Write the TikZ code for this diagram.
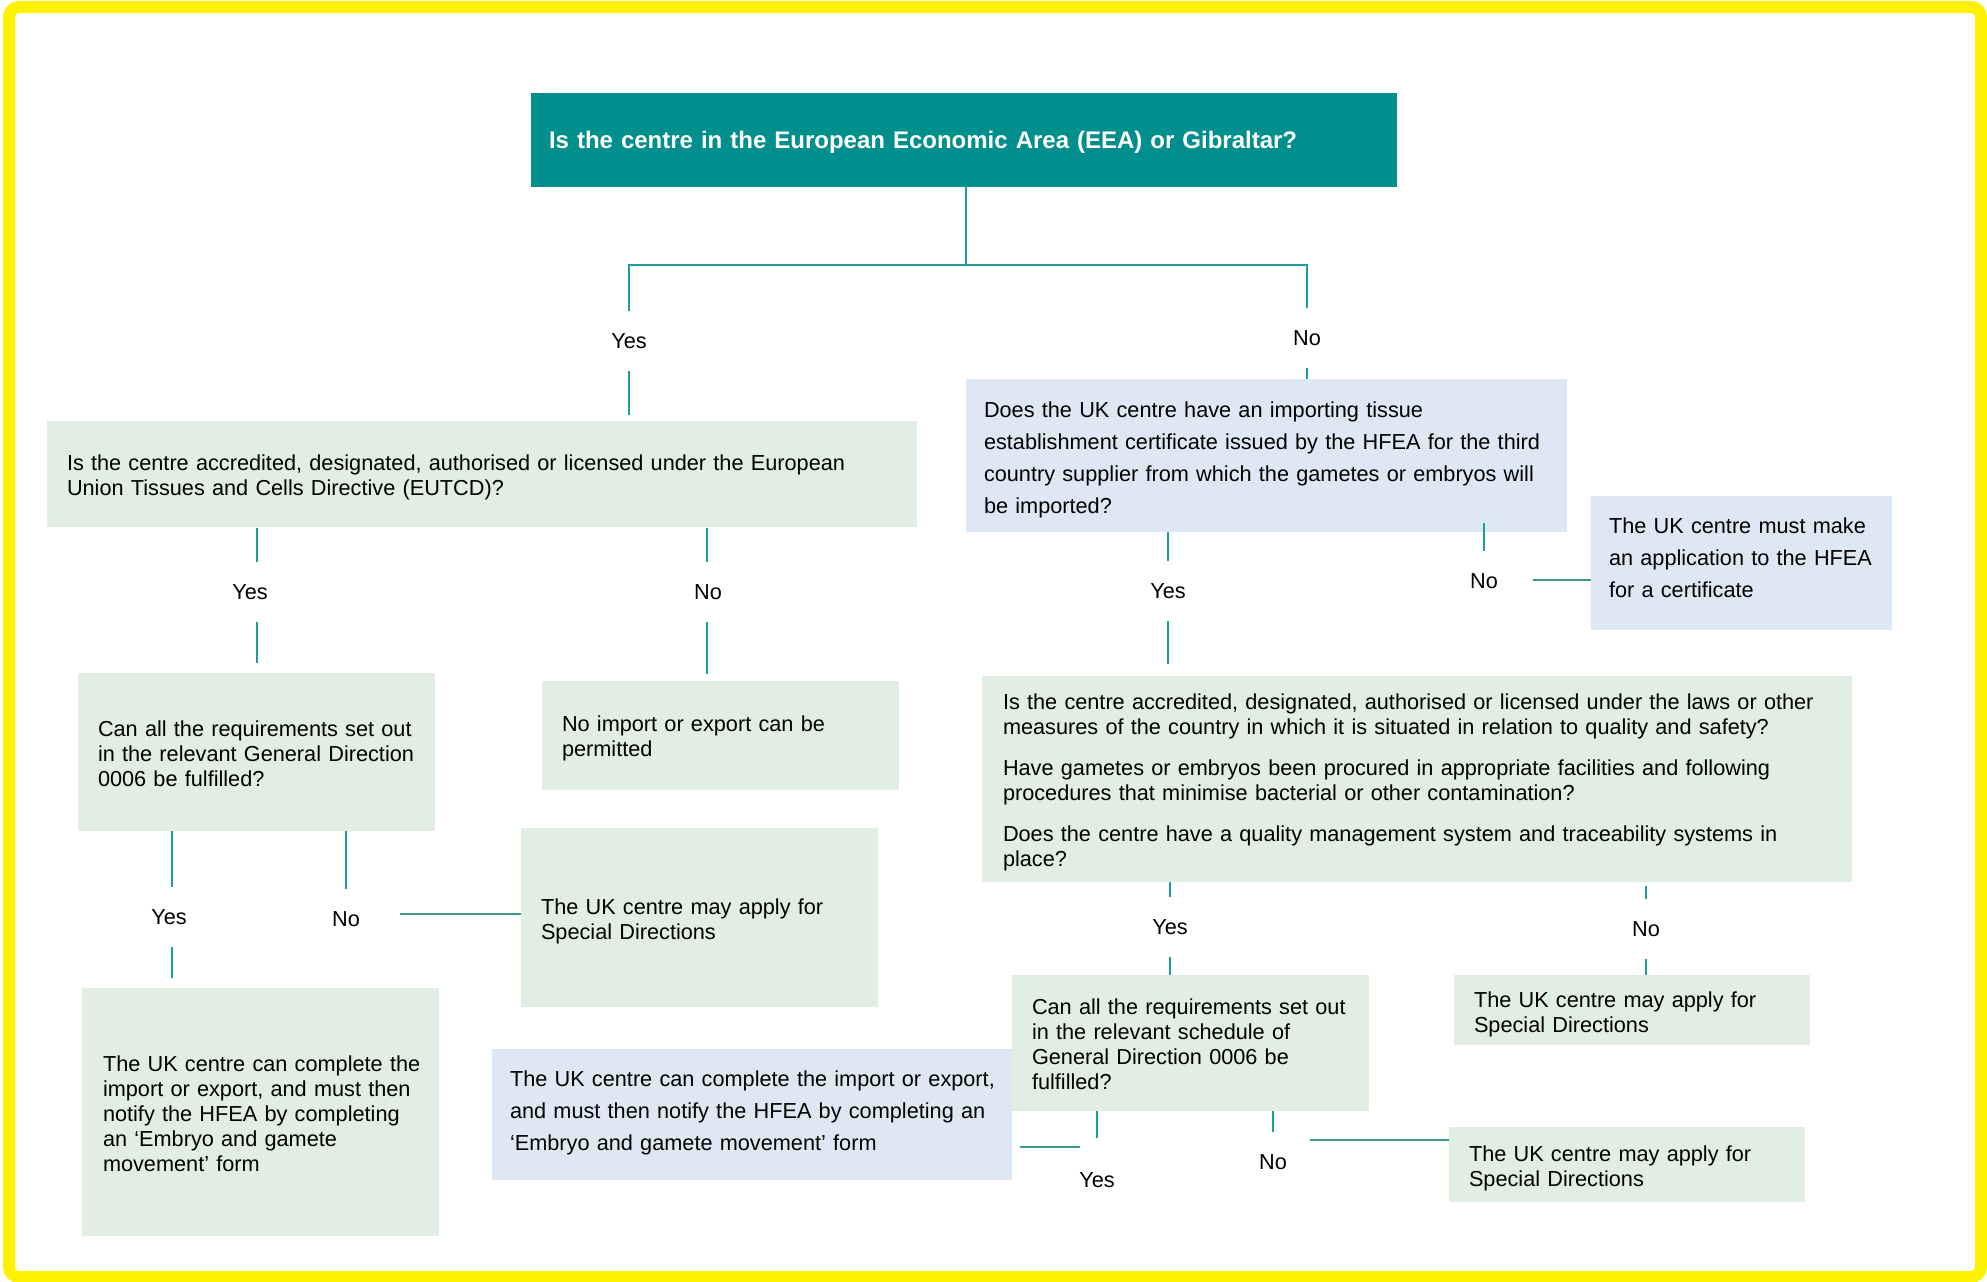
\documentclass[tikz,border=0pt]{standalone}
\usepackage{fontspec}
\setmainfont{Liberation Sans}
\usepackage{tikz}
\usetikzlibrary{calc}

\definecolor{headteal}{HTML}{008F8C}
\definecolor{linkteal}{HTML}{1E9C9E}
\definecolor{linkgreen}{HTML}{3A9A88}
\definecolor{boxgreen}{HTML}{E0EEE3}
\definecolor{boxblue}{HTML}{DEE8F4}

% fixed lines, optional extra room on top to lower the text a little
\newcommand{\boxlines}[2][4pt]{\noindent\raisebox{0pt}[\dimexpr\height+#1\relax][\depth]{\begin{tabular}{@{}l@{}}#2\end{tabular}}}

\begin{document}
\begin{tikzpicture}[x=0.5pt,y=-0.5pt,
  box/.style={inner xsep=10pt, inner ysep=0pt, align=left, font=\fontsize{10.85}{12.5}\selectfont},
  gbox/.style={box, fill=boxgreen},
  bbox/.style={box, fill=boxblue, inner xsep=9pt, font=\fontsize{10.85}{16}\selectfont},
  ans/.style={inner sep=0pt, minimum height=30pt, font=\fontsize{10.85}{12.5}\selectfont},
  link/.style={draw=linkteal, line width=1.2pt},
  side/.style={draw=linkgreen, line width=1.4pt}]
  \useasboundingbox (0,0) rectangle (1987,1281);
  \draw[yellow, line width=6pt, rounded corners=5pt] (9,7) rectangle (1981,1277); % frame

  % boxes
  \node[box, fill=headteal, text=white, inner xsep=9pt, text width=415pt, minimum height=47pt,
        font=\bfseries\fontsize{12}{14}\selectfont] (title) at (964,140)
        {\boxlines[3pt]{Is the centre in the European Economic Area (EEA) or Gibraltar?}};
  \node[gbox, text width=415pt, minimum height=53pt] (eutcd) at (482,474)
        {\boxlines{Is the centre accredited, designated, authorised or licensed under the European\\
         Union Tissues and Cells Directive (EUTCD)?}};
  \node[bbox, text width=282.5pt, minimum height=76.5pt] (cert) at (1266.5,455.5)
        {\boxlines{Does the UK centre have an importing tissue\\
         establishment certificate issued by the HFEA for the third\\
         country supplier from which the gametes or embryos will\\
         be imported?}};
  \node[bbox, text width=132.5pt, minimum height=67pt] (mustapp) at (1741.5,563)
        {\boxlines[-4pt]{The UK centre must make\\ an application to the HFEA\\ for a certificate}};
  \node[gbox, text width=158.5pt, minimum height=79pt] (gd) at (256.5,752)
        {\boxlines{Can all the requirements set out\\ in the relevant General Direction\\ 0006 be fulfilled?}};
  \node[gbox, text width=158.5pt, minimum height=54.5pt] (noimp) at (720.5,735.5)
        {\boxlines[3pt]{No import or export can be\\ permitted}};
  \node[gbox, inner xsep=10.5pt, text width=414pt, minimum height=103pt] (laws) at (1417,779)
        {\boxlines{Is the centre accredited, designated, authorised or licensed under the laws or other\\
         measures of the country in which it is situated in relation to quality and safety?\\[8pt]
         Have gametes or embryos been procured in appropriate facilities and following\\
         procedures that minimise bacterial or other contamination?\\[8pt]
         Does the centre have a quality management system and traceability systems in\\
         place?}};
  \node[gbox, text width=158.5pt, minimum height=89.5pt] (sdmid) at (699.5,917.5)
        {\boxlines{The UK centre may apply for\\ Special Directions}};
  \node[gbox, inner xsep=10.5pt, text width=157.5pt, minimum height=124pt] (compl) at (260.5,1112)
        {\boxlines{The UK centre can complete the\\ import or export, and must then\\ notify the HFEA by completing\\
         an `Embryo and gamete\\ movement' form}};
  \node[bbox, text width=242pt, minimum height=65.5pt] (complb) at (752,1114.5)
        {\boxlines[-2pt]{The UK centre can complete the import or export,\\
         and must then notify the HFEA by completing an\\
         `Embryo and gamete movement' form}};
  \node[gbox, text width=158.5pt, minimum height=68pt] (sched) at (1190.5,1043)
        {\boxlines{Can all the requirements set out\\ in the relevant schedule of\\ General Direction 0006 be\\ fulfilled?}};
  \node[gbox, text width=158pt, minimum height=35pt] (sdright) at (1632,1010)
        {\boxlines[5pt]{The UK centre may apply for\\ Special Directions}};
  \node[gbox, text width=158pt, minimum height=37.5pt] (sdbot) at (1627,1164.5)
        {\boxlines{The UK centre may apply for\\ Special Directions}};

  % answers
  \node[ans] (yTop)  at (629,341)  {Yes};
  \node[ans] (nTop)  at (1307,338) {No};
  \node[ans] (yEu)   at (250,592)  {Yes};
  \node[ans] (nEu)   at (708,592)  {No};
  \node[ans] (yCert) at (1168,591) {Yes};
  \node[ans] (nCert) at (1484,581) {No};
  \node[ans] (yGd)   at (169,917)  {Yes};
  \node[ans] (nGd)   at (346,919)  {No};
  \node[ans] (yLaws) at (1170,927) {Yes};
  \node[ans] (nLaws) at (1646,929) {No};
  \node[ans] (ySch)  at (1097,1180) {Yes};
  \node[ans] (nSch)  at (1273,1162) {No};

  % connectors
  \coordinate (split) at (966,265);
  \draw[link] (title.south -| split) -- (split);
  \draw[link] (yTop.north) |- (split) -| (nTop.north);
  \draw[link, shorten >=3pt] (yTop.south) -- (eutcd.north -| yTop);
  \draw[link] (nTop.south) -- (cert.north -| nTop);

  \coordinate (euL) at (257,528);
  \coordinate (euR) at (707,528);
  \draw[link] (euL) -- (euL |- yEu.north);
  \draw[link, shorten >=5pt] (euL |- yEu.south) -- (euL |- gd.north);
  \draw[link] (euR) -- (euR |- nEu.north);
  \draw[link, shorten >=3.5pt] (euR |- nEu.south) -- (euR |- noimp.north);

  \draw[link] (cert.south -| yCert) -- (yCert.north);
  \draw[link, shorten >=6pt] (yCert.south) -- (laws.north -| yCert);
  \draw[link] ([yshift=4.5pt]cert.south -| nCert) -- (nCert.north);
  \coordinate (certNo) at (1533,580);
  \draw[side] (certNo) -- (certNo -| mustapp.west);

  \coordinate (gdL) at (172,831);
  \draw[link] (gdL) -- (gdL |- yGd.north);
  \draw[link, shorten >=5pt] (gdL |- yGd.south) -- (gdL |- compl.north);
  \draw[link] (gd.south -| nGd) -- (nGd.north);
  \coordinate (gdNo) at (400,914);
  \draw[side] (gdNo) -- (gdNo -| sdmid.west);

  \draw[link] (laws.south -| yLaws) -- (yLaws.north);
  \draw[link] (yLaws.south) -- (sched.north -| yLaws);
  \draw[link] ([yshift=-2pt]laws.south -| nLaws) -- (nLaws.north);
  \draw[link] (nLaws.south) -- (sdright.north -| nLaws);

  \draw[link, shorten >=6pt] (sched.south -| ySch) -- (ySch.north);
  \coordinate (schYes) at (1080,1147);
  \draw[side, shorten >=4pt] (schYes) -- (schYes -| complb.east);
  \draw[link] (sched.south -| nSch) -- (nSch.north);
  \coordinate (schNo) at (1310,1140);
  \draw[side] (schNo) -- (schNo -| sdbot.west);
\end{tikzpicture}
\end{document}
